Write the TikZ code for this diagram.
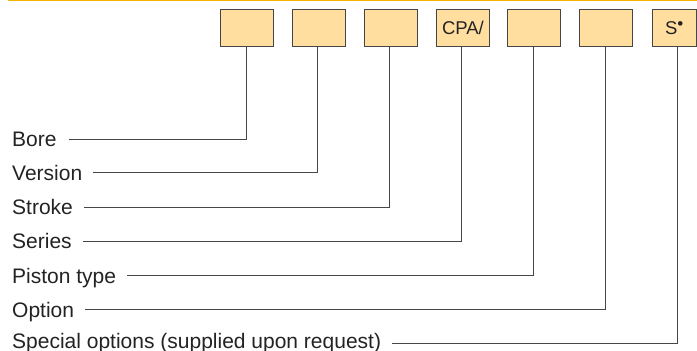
\documentclass[tikz,border=0pt]{standalone}
\usepackage{fontspec}
\setmainfont{Liberation Sans}
\definecolor{boxfill}{RGB}{255,222,160}
\definecolor{topline}{RGB}{245,180,0}
\definecolor{linegray}{RGB}{70,70,70}
\definecolor{textgray}{RGB}{35,35,35}
\begin{document}
\begin{tikzpicture}[x=1pt,y=-1pt,
  codebox/.style={draw=linegray,fill=boxfill,line width=0.9pt,minimum width=53pt,minimum height=37pt,inner sep=0pt,anchor=north west,font=\fontsize{18.5}{20}\selectfont,text=textgray},
  label/.style={anchor=base west,inner sep=0pt,font=\fontsize{21}{24}\selectfont,text=textgray},
  leader/.style={draw=linegray,line width=0.9pt}]
\useasboundingbox (0,0) rectangle (697,351);
\draw[topline,line width=1.6pt] (8,0.6) -- (697,0.6);
\node[codebox] (b1) at (220,9) {};
\node[codebox] (b2) at (292,9) {};
\node[codebox] (b3) at (363.5,9) {};
\node[codebox] (b4) at (436,9) {CPA/};
\node[codebox] (b5) at (507,9) {};
\node[codebox] (b6) at (579,9) {};
\node[codebox,minimum width=44.5pt] (b7) at (651.5,9) {S\raisebox{0.3em}{\fontsize{17}{17}\selectfont\char"2022}};
\node[label] (t1) at (12,146.5) {Bore};
\node[label] (t2) at (12,180) {Version};
\node[label] (t3) at (12,214.5) {Stroke};
\node[label] (t4) at (12,248.5) {Series};
\node[label] (t5) at (12,283) {Piston type};
\node[label] (t6) at (12,317) {Option};
\node[label] (t7) at (12,348.5) {Special options (supplied upon request)};
\coordinate (v1) at (246,47);
\coordinate (v2) at (317.5,47);
\coordinate (v3) at (389.5,47);
\coordinate (v4) at (461.5,47);
\coordinate (v5) at (533.5,47);
\coordinate (v6) at (605,47);
\coordinate (v7) at (677,47);
\draw[leader] ([xshift=12pt,yshift=7.5pt]t1.base east) -| (v1);
\draw[leader] ([xshift=11pt,yshift=7.5pt]t2.base east) -| (v2);
\draw[leader] ([xshift=11pt,yshift=7.5pt]t3.base east) -| (v3);
\draw[leader] ([xshift=11pt,yshift=7.5pt]t4.base east) -| (v4);
\draw[leader] ([xshift=11pt,yshift=7.5pt]t5.base east) -| (v5);
\draw[leader] ([xshift=11pt,yshift=7.5pt]t6.base east) -| (v6);
\draw[leader] ([xshift=11pt,yshift=5.5pt]t7.base east) -| (v7);
\end{tikzpicture}
\end{document}
